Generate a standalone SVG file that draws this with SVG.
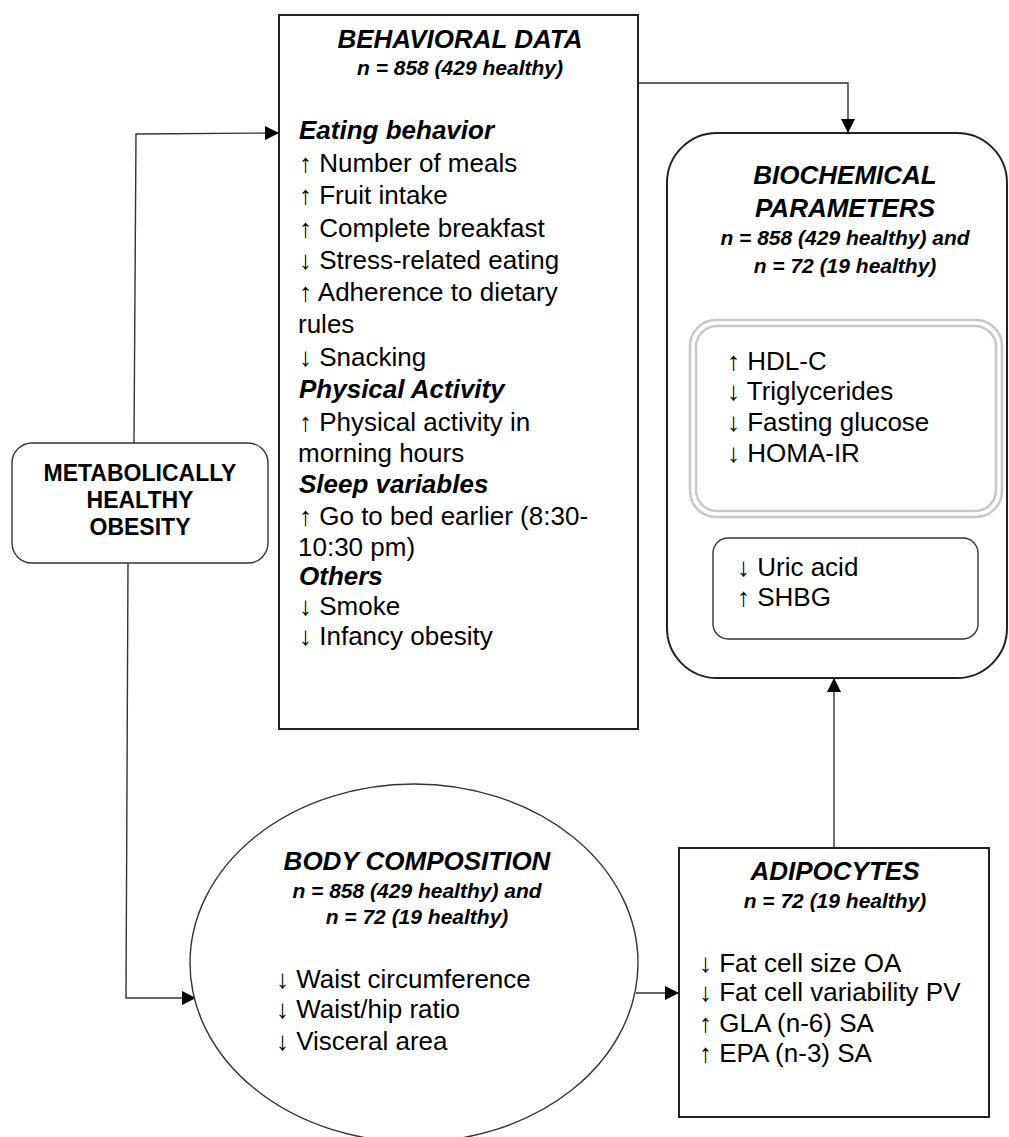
<svg xmlns="http://www.w3.org/2000/svg" width="1009" height="1137" viewBox="0 0 1009 1137">
<style>
text{font-family:"Liberation Sans",Arial,sans-serif;fill:#000}
.t{font-size:26px;font-weight:bold;font-style:italic;text-anchor:middle}
.s{font-size:21px;font-weight:bold;font-style:italic;text-anchor:middle}
.h{font-size:26px;font-weight:bold;font-style:italic}
.b{font-size:26px}
.m{font-size:23px;font-weight:bold;text-anchor:middle}
.box{fill:#fff;stroke:#222;stroke-width:2}
.thin{fill:#fff;stroke:#333;stroke-width:1.4}
.grey{fill:none;stroke:#c8c8c8;stroke-width:2.5}
.con{fill:none;stroke:#333;stroke-width:1.4}
</style>
<defs>
<marker id="ah" markerUnits="userSpaceOnUse" markerWidth="14" markerHeight="14" viewBox="0 0 14 14" refX="13" refY="7" orient="auto">
<path d="M0,0 L14,7 L0,14 Z" fill="#000"/>
</marker>
</defs>
<rect width="1009" height="1137" fill="#fff"/>

<g id="connectors">
<path class="con" d="M134,443 L136,134 L278,133" marker-end="url(#ah)"/>
<path class="con" d="M128,563 L126,998 L195,998" marker-end="url(#ah)"/>
<path class="con" d="M638,83 H848 V132" marker-end="url(#ah)"/>
<path class="con" d="M636,993 H678" marker-end="url(#ah)"/>
<path class="con" d="M834,848 V679" marker-end="url(#ah)"/>
</g>

<g id="mho">
<rect class="thin" x="12" y="443" width="256" height="120" rx="20"/>
<text class="m" x="140" y="481">METABOLICALLY</text>
<text class="m" x="140" y="508">HEALTHY</text>
<text class="m" x="140" y="535">OBESITY</text>
</g>

<g id="behavioral">
<rect class="box" x="279" y="15" width="359" height="714"/>
<text class="t" x="460" y="48">BEHAVIORAL DATA</text>
<text class="s" x="460" y="75">n = 858 (429 healthy)</text>
<text class="h" x="299" y="139">Eating behavior</text>
<text class="b" x="299" y="172">↑ Number of meals</text>
<text class="b" x="299" y="204">↑ Fruit intake</text>
<text class="b" x="299" y="237">↑ Complete breakfast</text>
<text class="b" x="299" y="269">↓ Stress-related eating</text>
<text class="b" x="299" y="301">↑ Adherence to dietary</text>
<text class="b" x="298" y="333">rules</text>
<text class="b" x="299" y="366">↓ Snacking</text>
<text class="h" x="299" y="398">Physical Activity</text>
<text class="b" x="299" y="431">↑ Physical activity in</text>
<text class="b" x="298" y="462">morning hours</text>
<text class="h" x="299" y="493">Sleep variables</text>
<text class="b" x="299" y="525">↑ Go to bed earlier (8:30-</text>
<text class="b" x="298" y="556">10:30 pm)</text>
<text class="h" x="299" y="585">Others</text>
<text class="b" x="299" y="615">↓ Smoke</text>
<text class="b" x="299" y="645">↓ Infancy obesity</text>
</g>

<g id="biochemical">
<rect class="box" x="667" y="133" width="340" height="545" rx="50"/>
<text class="t" x="845" y="184">BIOCHEMICAL</text>
<text class="t" x="845" y="217">PARAMETERS</text>
<text class="s" x="845" y="245">n = 858 (429 healthy) and</text>
<text class="s" x="845" y="273">n = 72 (19 healthy)</text>
<rect class="grey" x="690" y="320" width="312" height="197" rx="26"/>
<rect class="grey" x="696" y="326" width="300" height="185" rx="21"/>
<text class="b" x="727" y="370">↑ HDL-C</text>
<text class="b" x="727" y="400">↓ Triglycerides</text>
<text class="b" x="727" y="431">↓ Fasting glucose</text>
<text class="b" x="727" y="462">↓ HOMA-IR</text>
<rect class="thin" x="713" y="538" width="265" height="101" rx="15"/>
<text class="b" x="737" y="576">↓ Uric acid</text>
<text class="b" x="737" y="606">↑ SHBG</text>
</g>

<g id="body-composition">
<ellipse class="thin" cx="414" cy="963" rx="224" ry="179"/>
<text class="t" x="417" y="870">BODY COMPOSITION</text>
<text class="s" x="417" y="898">n = 858 (429 healthy) and</text>
<text class="s" x="417" y="924">n = 72 (19 healthy)</text>
<text class="b" x="276" y="988">↓ Waist circumference</text>
<text class="b" x="276" y="1018">↓ Waist/hip ratio</text>
<text class="b" x="276" y="1050">↓ Visceral area</text>
</g>

<g id="adipocytes">
<rect class="box" x="679" y="848" width="310" height="269"/>
<text class="t" x="835" y="880">ADIPOCYTES</text>
<text class="s" x="835" y="908">n = 72 (19 healthy)</text>
<text class="b" x="699" y="972">↓ Fat cell size OA</text>
<text class="b" x="699" y="1001">↓ Fat cell variability PV</text>
<text class="b" x="699" y="1032">↑ GLA (n-6) SA</text>
<text class="b" x="699" y="1062">↑ EPA (n-3) SA</text>
</g>
</svg>
